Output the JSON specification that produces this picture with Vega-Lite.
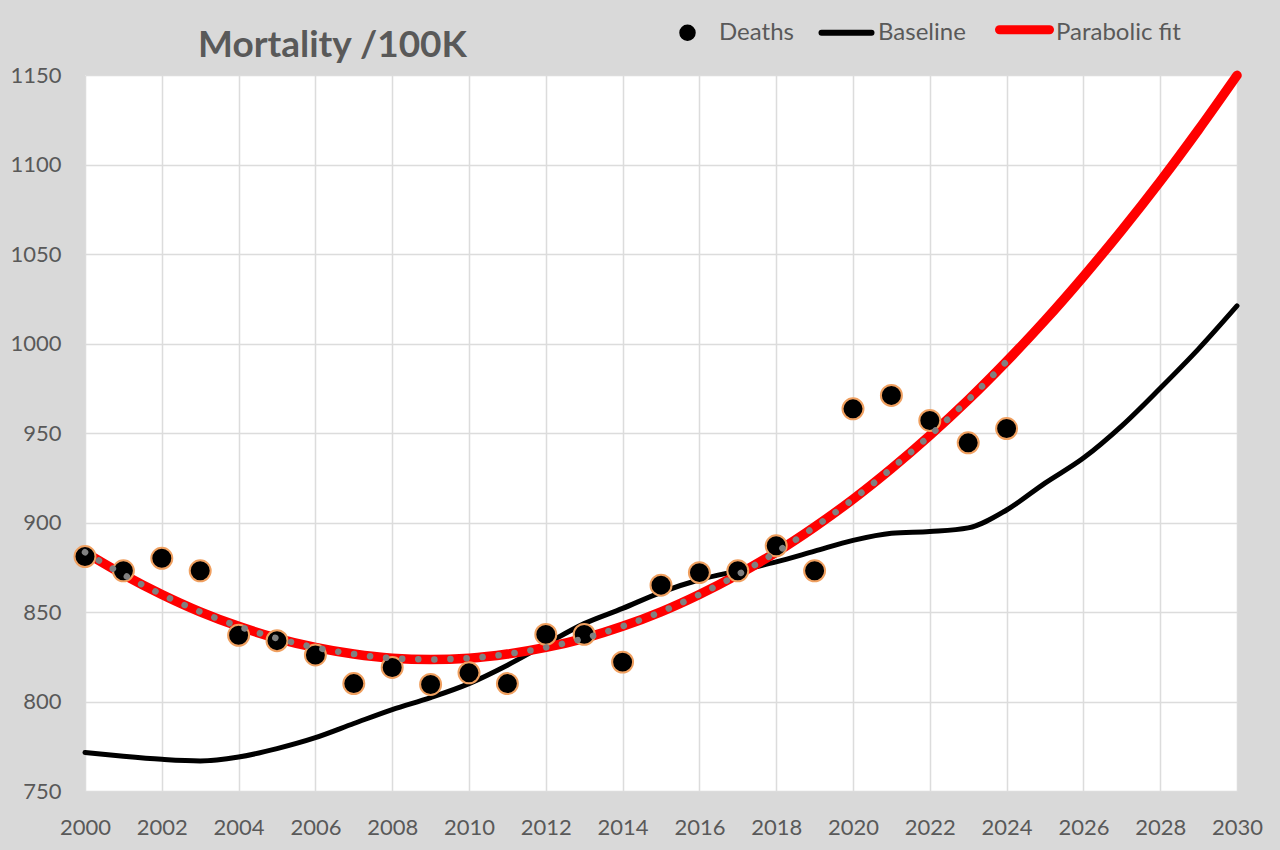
{
  "$schema": "https://vega.github.io/schema/vega-lite/v6.json",
  "autosize": "none",
  "width": 1152,
  "height": 716,
  "padding": {"left": 85, "top": 75, "right": 43, "bottom": 59},
  "background": "#d9d9d9",
  "title": {
    "text": "Mortality /100K",
    "anchor": "start",
    "frame": "group",
    "dx": 113,
    "offset": -94,
    "baseline": "alphabetic",
    "font": "Lato",
    "fontSize": 37,
    "fontWeight": "bold",
    "color": "#595959"
  },
  "config": {
    "view": {"fill": "white", "stroke": null},
    "axis": {
      "labelFont": "Lato",
      "labelFontSize": 22,
      "labelColor": "#595959",
      "gridColor": "#dcdcdc",
      "gridWidth": 1.5,
      "domain": false,
      "ticks": false,
      "title": null
    }
  },
  "datasets": {
    "deaths": [
      {"year": 2000, "value": 881}, {"year": 2001, "value": 873}, {"year": 2002, "value": 880},
      {"year": 2003, "value": 873}, {"year": 2004, "value": 837}, {"year": 2005, "value": 834},
      {"year": 2006, "value": 826}, {"year": 2007, "value": 810}, {"year": 2008, "value": 819},
      {"year": 2009, "value": 809.5}, {"year": 2010, "value": 816}, {"year": 2011, "value": 810},
      {"year": 2012, "value": 837.5}, {"year": 2013, "value": 837.5}, {"year": 2014, "value": 822},
      {"year": 2015, "value": 865}, {"year": 2016, "value": 872}, {"year": 2017, "value": 873},
      {"year": 2018, "value": 887}, {"year": 2019, "value": 873}, {"year": 2020, "value": 963.5},
      {"year": 2021, "value": 971}, {"year": 2022, "value": 957}, {"year": 2023, "value": 944.5},
      {"year": 2024, "value": 952.5}
    ],
    "baseline": [
      {"year": 2000, "value": 771.5}, {"year": 2001, "value": 769.4}, {"year": 2002, "value": 767.7},
      {"year": 2003, "value": 766.8}, {"year": 2004, "value": 769}, {"year": 2005, "value": 773.7},
      {"year": 2006, "value": 779.8}, {"year": 2007, "value": 787.7}, {"year": 2008, "value": 795.5},
      {"year": 2009, "value": 802.2}, {"year": 2010, "value": 810}, {"year": 2011, "value": 820.3},
      {"year": 2012, "value": 832}, {"year": 2013, "value": 843.5}, {"year": 2014, "value": 852},
      {"year": 2015, "value": 861}, {"year": 2016, "value": 868}, {"year": 2017, "value": 873},
      {"year": 2018, "value": 878}, {"year": 2019, "value": 884}, {"year": 2020, "value": 890},
      {"year": 2021, "value": 894}, {"year": 2022, "value": 895}, {"year": 2023, "value": 897},
      {"year": 2024, "value": 907}, {"year": 2025, "value": 922}, {"year": 2026, "value": 936},
      {"year": 2027, "value": 954}, {"year": 2028, "value": 975}, {"year": 2029, "value": 997},
      {"year": 2030, "value": 1021}
    ],
    "fit": [
      {"year": 2000, "value": 883.4}, {"year": 2001, "value": 870.9}, {"year": 2002, "value": 859.8},
      {"year": 2003, "value": 850.1}, {"year": 2004, "value": 842}, {"year": 2005, "value": 835.3},
      {"year": 2006, "value": 830.2}, {"year": 2007, "value": 826.5}, {"year": 2008, "value": 824.2},
      {"year": 2009, "value": 823.5}, {"year": 2010, "value": 824.2}, {"year": 2011, "value": 826.5},
      {"year": 2012, "value": 830.2}, {"year": 2013, "value": 835.3}, {"year": 2014, "value": 842},
      {"year": 2015, "value": 850.1}, {"year": 2016, "value": 859.8}, {"year": 2017, "value": 870.9},
      {"year": 2018, "value": 883.4}, {"year": 2019, "value": 897.5}, {"year": 2020, "value": 913},
      {"year": 2021, "value": 930.1}, {"year": 2022, "value": 948.6}, {"year": 2023, "value": 968.5},
      {"year": 2024, "value": 990}, {"year": 2025, "value": 1012.9}, {"year": 2026, "value": 1037.4},
      {"year": 2027, "value": 1063.3}, {"year": 2028, "value": 1090.6}, {"year": 2029, "value": 1119.5},
      {"year": 2030, "value": 1149.8}
    ]
  },
  "encoding": {
    "x": {
      "field": "year",
      "type": "quantitative",
      "scale": {"domain": [2000, 2030], "nice": false, "zero": false},
      "axis": {
        "values": [2000, 2002, 2004, 2006, 2008, 2010, 2012, 2014, 2016, 2018, 2020, 2022, 2024, 2026, 2028, 2030],
        "format": "d",
        "labelPadding": 26,
        "labelFlush": false,
        "labelOverlap": false
      }
    },
    "y": {
      "field": "value",
      "type": "quantitative",
      "scale": {"domain": [750, 1150], "nice": false, "zero": false},
      "axis": {
        "values": [750, 800, 850, 900, 950, 1000, 1050, 1100, 1150],
        "format": "d",
        "labelPadding": 24,
        "labelFlush": false,
        "labelOverlap": false
      }
    }
  },
  "layer": [
    {
      "data": {"name": "baseline"},
      "mark": {"type": "line", "interpolate": "monotone", "strokeWidth": 5, "strokeCap": "round"},
      "encoding": {
        "color": {
          "datum": "Baseline",
          "scale": {"domain": ["Deaths", "Baseline", "Parabolic fit"], "range": ["black", "black", "#ff0000"]},
          "legend": {
            "title": null,
            "orient": "none",
            "direction": "horizontal",
            "legendX": 573,
            "legendY": -75,
            "labelFont": "Lato",
            "labelFontSize": 24,
            "labelColor": "#595959",
            "labelOffset": 2,
            "columnPadding": 15,
            "symbolSize": 2500,
            "encode": {
              "symbols": {
                "update": {
                  "shape": {"signal": "(datum.value === 'Deaths' ? 'M0.3,0A0.3,0.3,0,1,1,-0.3,0A0.3,0.3,0,1,1,0.3,0Z' : 'stroke')"},
                  "size": {"value": 2500},
                  "strokeWidth": {"signal": "(datum.value === 'Deaths' ? 1.5 : (datum.value === 'Baseline' ? 6 : 9))"},
                  "fill": {"signal": "(datum.value === 'Deaths' ? 'black' : 'transparent')"},
                  "stroke": {"signal": "(datum.value === 'Deaths' ? '#ee7d22' : (datum.value === 'Baseline' ? 'black' : '#ff0000'))"},
                  "strokeCap": {"value": "round"},
                  "opacity": {"value": 1}
                }
              },
              "labels": {
                "update": {
                  "dy": {"signal": "(datum.value === 'Parabolic fit' ? 3 : 0)"}
                }
              }
            }
          }
        }
      }
    },
    {
      "data": {"name": "fit"},
      "mark": {"type": "line", "interpolate": "monotone", "strokeWidth": 9.5, "strokeCap": "round"},
      "encoding": {"color": {"datum": "Parabolic fit"}}
    },
    {
      "data": {"name": "deaths"},
      "mark": {"type": "point", "filled": true, "shape": "circle", "size": 440, "stroke": "#f0a060", "strokeWidth": 2, "opacity": 1},
      "encoding": {"color": {"datum": "Deaths"}}
    },
    {
      "data": {"name": "fit"},
      "transform": [{"filter": "datum.year <= 2024"}],
      "mark": {"type": "line", "interpolate": "monotone", "color": "#808080", "strokeWidth": 6.5, "strokeCap": "round", "strokeDash": [0.1, 16]},
      "encoding": {}
    }
  ]
}
